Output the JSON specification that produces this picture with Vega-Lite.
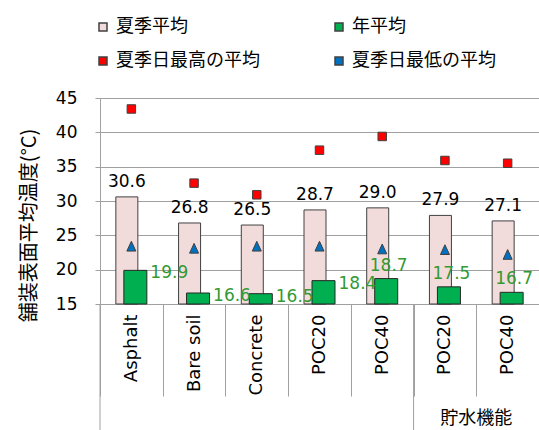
{
  "$schema": "https://vega.github.io/schema/vega-lite/v6.json",
  "width": 439,
  "height": 206,
  "autosize": {"type": "none"},
  "padding": {"left": 100, "top": 98, "right": 0, "bottom": 126},
  "config": {
    "view": {"stroke": null},
    "font": "DejaVu Sans",
    "axisY": {
      "tickCount": 7,
      "labelOverlap": false,
      "grid": true, "gridColor": "#a0a0a0",
      "domainColor": "#a0a0a0", "tickColor": "#a0a0a0", "tickSize": 5,
      "labelPadding": 18, "labelFont": "DejaVu Sans", "labelFontSize": 17, "labelColor": "#000000",
      "titleFont": "Noto Sans CJK JP", "titleFontSize": 20, "titleFontWeight": "normal", "titleColor": "#000000",
      "titleX": -61, "titleY": 127
    }
  },
  "data": {
    "values": [
      {"id": "Asphalt|", "summer": 30.6, "annual": 19.9, "max": 43.4, "min": 23.4},
      {"id": "Bare soil|", "summer": 26.8, "annual": 16.6, "max": 32.6, "min": 23.1},
      {"id": "Concrete|", "summer": 26.5, "annual": 16.5, "max": 30.9, "min": 23.4},
      {"id": "POC20|", "summer": 28.7, "annual": 18.4, "max": 37.4, "min": 23.4},
      {"id": "POC40|", "summer": 29.0, "annual": 18.7, "max": 39.4, "min": 23.0},
      {"id": "POC20|貯水機能", "summer": 27.9, "annual": 17.5, "max": 35.9, "min": 22.9},
      {"id": "POC40|貯水機能", "summer": 27.1, "annual": 16.7, "max": 35.5, "min": 22.2}
    ]
  },
  "encoding": {
    "x": {
      "field": "id", "type": "nominal", "sort": null,
      "scale": {"paddingInner": 0, "paddingOuter": 0},
      "axis": {
        "title": null,
        "labelExpr": "datum.value ? split(datum.value, '|')[0] : ''",
        "labelAngle": -90,
        "labelAlign": "right",
        "labelBaseline": "middle",
        "labelFont": "DejaVu Sans",
        "labelFontSize": 18,
        "labelColor": "#000000",
        "tickBand": "extent",
        "tickSize": 92,
        "tickColor": "#a0a0a0",
        "domainColor": "#a0a0a0",
        "labelPadding": -82,
        "grid": false
      }
    }
  },
  "layer": [
    {
      "mark": {"type": "bar", "width": 22, "xOffset": -4.5, "stroke": "#404040", "strokeWidth": 1},
      "encoding": {
        "y": {
          "field": "summer", "type": "quantitative",
          "title": "舗装表面平均温度(°C)",
          "scale": {"domain": [15, 45], "nice": false, "zero": false},
          "axis": {"values": [15, 20, 25, 30, 35, 40, 45]}
        },
        "y2": {"datum": 15},
        "color": {
          "datum": "夏季平均",
          "scale": {
            "domain": ["夏季平均", "年平均", "夏季日最高の平均", "夏季日最低の平均"],
            "range": ["#f2dcdb", "#00b050", "#ff0000", "#0070c0"]
          },
          "legend": {
            "orient": "none", "legendX": -6, "legendY": -80,
            "direction": "horizontal",
            "columns": 2, "columnPadding": 70, "rowPadding": 16,
            "title": null, "symbolSize": 64, "padding": 0,
            "labelFont": "Noto Sans CJK JP", "labelFontSize": 18, "labelColor": "#000000",
            "labelOffset": 4, "labelLimit": 0,
            "encode": {
              "symbols": {
                "update": {
                  "shape": {"signal": "datum.value === '夏季日最低の平均' ? 'triangle-up' : 'square'"},
                  "stroke": {"value": "#404040"},
                  "strokeWidth": {"value": 1}
                }
              }
            }
          }
        }
      }
    },
    {
      "mark": {"type": "bar", "width": 23, "xOffset": 4, "stroke": "#262626", "strokeWidth": 1},
      "encoding": {
        "y": {"field": "annual", "type": "quantitative", "title": "舗装表面平均温度(°C)"},
        "y2": {"datum": 15},
        "color": {"datum": "年平均"}
      }
    },
    {
      "mark": {"type": "point", "filled": true, "shape": "square", "size": 72, "stroke": "#404040", "strokeWidth": 1, "opacity": 1},
      "encoding": {
        "y": {"field": "max", "type": "quantitative", "title": "舗装表面平均温度(°C)"},
        "color": {"datum": "夏季日最高の平均"}
      }
    },
    {
      "mark": {"type": "point", "filled": true, "shape": "M0,-1L0.9,0.95L-0.9,0.95Z", "size": 100, "stroke": "#404040", "strokeWidth": 1, "opacity": 1},
      "encoding": {
        "y": {"field": "min", "type": "quantitative", "title": "舗装表面平均温度(°C)"},
        "color": {"datum": "夏季日最低の平均"}
      }
    },
    {
      "mark": {"type": "text", "xOffset": -4.5, "dy": -10, "baseline": "alphabetic", "align": "center", "font": "DejaVu Sans", "fontSize": 17, "color": "#000000"},
      "encoding": {
        "y": {"field": "summer", "type": "quantitative", "title": "舗装表面平均温度(°C)"},
        "text": {"field": "summer", "type": "quantitative", "format": ".1f"}
      }
    },
    {
      "transform": [{"filter": {"field": "id", "oneOf": ["Asphalt|", "Bare soil|", "Concrete|", "POC20|"]}}],
      "mark": {"type": "text", "dx": 19, "dy": 3, "baseline": "middle", "align": "left", "font": "DejaVu Sans", "fontSize": 17, "color": "#339933"},
      "encoding": {
        "y": {"field": "annual", "type": "quantitative", "title": "舗装表面平均温度(°C)"},
        "text": {"field": "annual", "type": "quantitative", "format": ".1f"}
      }
    },
    {
      "transform": [{"filter": {"field": "id", "oneOf": ["POC40|", "POC20|貯水機能", "POC40|貯水機能"]}}],
      "mark": {"type": "text", "xOffset": 6.5, "dy": -8, "baseline": "alphabetic", "align": "center", "font": "DejaVu Sans", "fontSize": 17, "color": "#339933"},
      "encoding": {
        "y": {"field": "annual", "type": "quantitative", "title": "舗装表面平均温度(°C)"},
        "text": {"field": "annual", "type": "quantitative", "format": ".1f"}
      }
    },
    {
      "transform": [{"filter": {"field": "id", "oneOf": ["Asphalt|", "POC20|貯水機能"]}}],
      "mark": {"type": "rule", "color": "#a0a0a0", "strokeWidth": 1},
      "encoding": {
        "x": {"field": "id", "type": "nominal", "sort": null, "bandPosition": 0},
        "y": {"datum": 15},
        "y2": {"datum": -4}
      }
    },
    {
      "transform": [{"filter": {"field": "id", "equal": "POC40|貯水機能"}}],
      "mark": {"type": "text", "text": "貯水機能", "baseline": "middle", "align": "center", "font": "Noto Sans CJK JP", "fontSize": 18, "color": "#000000"},
      "encoding": {
        "x": {"field": "id", "type": "nominal", "sort": null, "bandPosition": 0},
        "y": {"datum": -1.8}
      }
    }
  ]
}
